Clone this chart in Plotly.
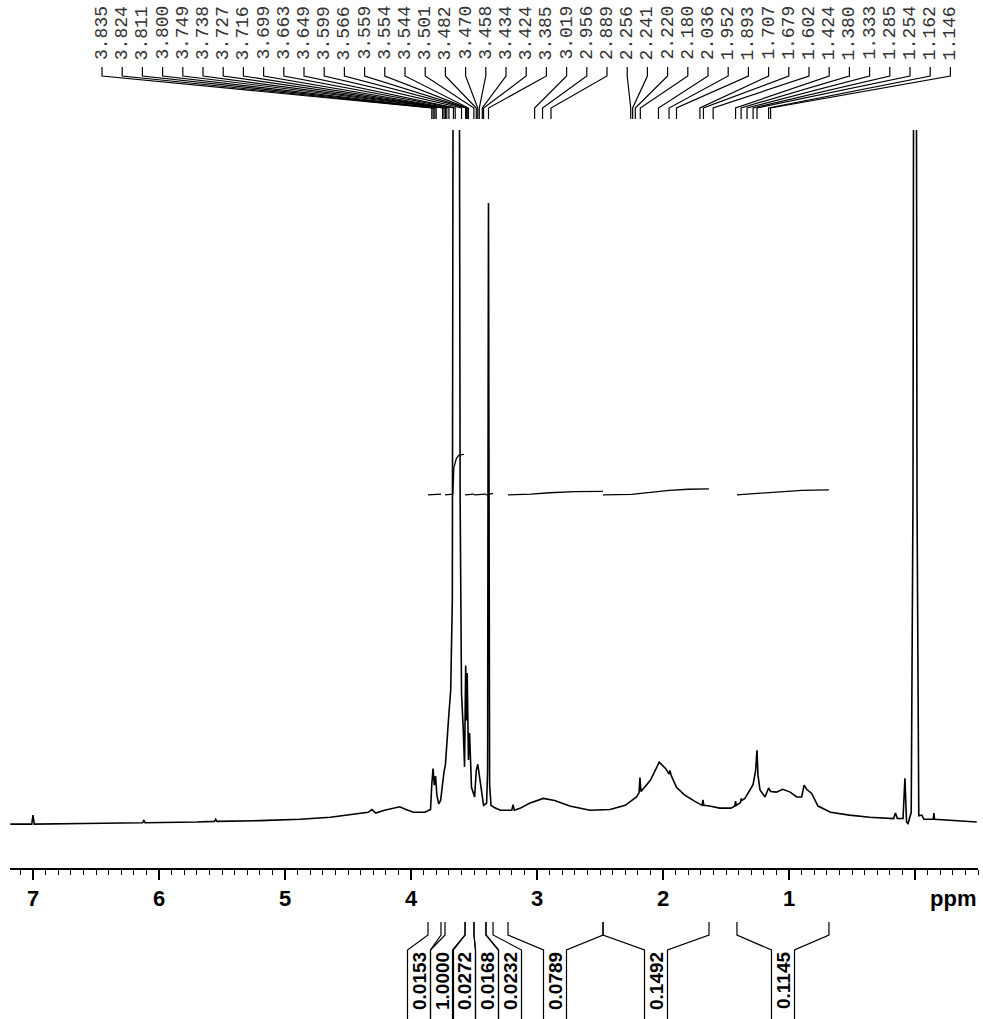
import plotly.graph_objects as go

# ---------------- data ----------------
spec_ppm = [7.18, 7.01, 7.00, 6.99, 6.60, 6.13, 6.12, 6.11, 5.70, 5.56, 5.55, 5.54, 5.20, 4.88,
            4.64, 4.44, 4.34, 4.31, 4.28, 4.21, 4.13, 4.09, 4.04, 3.98, 3.89, 3.845, 3.835, 3.825,
            3.815, 3.805, 3.795, 3.78, 3.765, 3.75, 3.738, 3.727, 3.716, 3.699, 3.685, 3.672,
            3.663, 3.620, 3.610, 3.599, 3.585, 3.575, 3.566, 3.559, 3.554, 3.544, 3.535, 3.52,
            3.495, 3.482, 3.470, 3.458, 3.450, 3.434, 3.424, 3.40, 3.392, 3.388, 3.385, 3.382,
            3.376, 3.365, 3.34, 3.29, 3.20, 3.19, 3.18, 3.13, 3.06, 2.95, 2.86, 2.74, 2.58, 2.42,
            2.30, 2.21, 2.19, 2.183, 2.175, 2.10, 2.03, 1.98, 1.952, 1.945, 1.935, 1.893, 1.83,
            1.75, 1.69, 1.683, 1.676, 1.63, 1.55, 1.46, 1.43, 1.424, 1.418, 1.385, 1.380, 1.375,
            1.35, 1.31, 1.285, 1.265, 1.254, 1.246, 1.23, 1.19, 1.162, 1.146, 1.10, 1.05, 0.99,
            0.94, 0.90, 0.88, 0.86, 0.82, 0.77, 0.67, 0.52, 0.36, 0.17, 0.155, 0.14, 0.095, 0.08,
            0.067, 0.055, 0.03, 0.016, 0.008, -0.008, -0.016, -0.03, -0.055, -0.07, -0.145,
            -0.15, -0.155, -0.30, -0.49]
spec_int = [0.3, 0.3, 1.6, 0.3, 0.4, 0.5, 0.8, 0.5, 0.6, 0.7, 1.0, 0.7, 0.8, 1.0,
            1.3, 1.7, 2.0, 2.4, 1.9, 2.3, 2.7, 2.8, 2.4, 2.0, 2.0, 2.4, 6.0, 8.3,
            5.9, 7.2, 4.5, 3.2, 3.7, 6.5, 7.8, 8.8, 11.2, 16.2, 19.5, 32.5,
            150, 150, 46.8, 19.1, 13.8, 8.5, 23.1, 15.2, 22.0, 9.5, 13.4, 5.6,
            4.2, 8.0, 8.9, 7.3, 6.6, 3.7, 3.0, 3.3, 8.0, 60, 89.5, 60,
            6.0, 3.0, 2.7, 2.3, 2.3, 3.1, 2.3, 2.6, 3.3, 4.0, 3.7, 2.9, 2.3, 2.4,
            3.0, 4.2, 4.8, 7.0, 5.0, 6.6, 9.2, 8.3, 7.5, 8.0, 7.3, 5.6, 4.5,
            3.6, 3.0, 3.8, 3.0, 2.9, 2.6, 2.6, 2.9, 3.6, 3.0, 3.4, 4.0, 3.7,
            4.0, 5.2, 6.0, 8.0, 10.9, 7.3, 5.2, 4.2, 5.5, 5.0, 4.9, 5.3, 4.9,
            4.2, 4.2, 5.9, 5.3, 4.7, 2.9, 2.0, 1.6, 1.3, 1.1, 1.9, 1.1, 1.1, 6.9,
            0.6, 0.4, 2.0, 47, 150, 150, 47, 1.5, 1.6, 1.0, 1.0,
            1.9, 1.0, 0.8, 0.6]

peak_labels = ["3.835", "3.824", "3.811", "3.800", "3.749", "3.738", "3.727", "3.716",
               "3.699", "3.663", "3.649", "3.599", "3.566", "3.559", "3.554", "3.544",
               "3.501", "3.482", "3.470", "3.458", "3.434", "3.424", "3.385", "3.019",
               "2.956", "2.889", "2.256", "2.241", "2.220", "2.180", "2.036", "1.952",
               "1.893", "1.707", "1.679", "1.602", "1.424", "1.380", "1.333", "1.285",
               "1.254", "1.162", "1.146"]

integ_labels = ["0.0153", "1.0000", "0.0272", "0.0168", "0.0232", "0.0789", "0.1492", "0.1145"]
integ_start = [3.865, 3.730, 3.571, 3.500, 3.405, 3.230, 2.476, 1.413]
integ_end = [3.762, 3.571, 3.500, 3.405, 3.349, 2.476, 1.635, 0.683]
integ_curve_ppm = [
    [3.865, 3.762],
    [3.730, 3.668, 3.660, 3.640, 3.620, 3.580],
    [3.571, 3.500],
    [3.500, 3.405],
    [3.405, 3.349],
    [3.230, 3.05, 2.90, 2.70, 2.476],
    [2.476, 2.25, 2.10, 1.95, 1.80, 1.635],
    [1.413, 1.30, 1.20, 1.05, 0.90, 0.683],
]
integ_curve_val = [
    [47.6, 47.7],
    [47.6, 47.7, 51.5, 52.8, 53.3, 53.4],
    [47.6, 47.7],
    [47.6, 47.7],
    [47.6, 47.8],
    [47.6, 47.7, 47.9, 48.05, 48.1],
    [47.6, 47.65, 47.95, 48.25, 48.4, 48.45],
    [47.6, 47.75, 47.9, 48.05, 48.25, 48.3],
]

tick_vals = [0, 1, 2, 3, 4, 5, 6, 7]
tick_text = ["", "1", "2", "3", "4", "5", "6", "7"]

# ---------------- layout geometry ----------------
W, H = 983, 1019
X0_PX, X1_PX = 10, 978
PPM_LEFT, PPM_RIGHT = 7.1825, -0.5
AXIS_Y_PX, TOP_Y_PX = 868, 130
INT_RANGE = [-6, 100]

LABEL_X0_PX, LABEL_DX_PX = 102, 20.2
LABEL_Y_PX = 33
CONN_Y = [67, 76, 108, 119]

BOX_CENTER_PX = [419, 442, 464, 487, 510, 555, 656, 783]
BOX_HALF_PX = 11.5
BR_Y = [922, 935, 950, 1019]
BOX_TEXT_Y_PX = 981


def px_x(p):
    return X0_PX + (PPM_LEFT - p) / (PPM_LEFT - PPM_RIGHT) * (X1_PX - X0_PX)


def fx(px):
    return px / W


def fy(py):
    return 1 - py / H


fig = go.Figure()
fig.add_trace(go.Scatter(x=spec_ppm, y=spec_int, mode="lines",
                         line=dict(color="black", width=1.6), hoverinfo="skip"))
for cp, cv in zip(integ_curve_ppm, integ_curve_val):
    fig.add_trace(go.Scatter(x=cp, y=cv, mode="lines",
                             line=dict(color="black", width=1.3), hoverinfo="skip"))

shapes = []
annotations = []

# peak labels + connectors
for i, lab in enumerate(peak_labels):
    lx = LABEL_X0_PX + LABEL_DX_PX * i
    pxp = px_x(float(lab))
    annotations.append(dict(text=lab, x=fx(lx), y=fy(LABEL_Y_PX), xref="paper", yref="paper",
                            textangle=-90, showarrow=False, xanchor="center", yanchor="middle",
                            font=dict(family="Liberation Mono", size=18, color="#333")))
    path = (f"M {fx(lx)},{fy(CONN_Y[0])} L {fx(lx)},{fy(CONN_Y[1])} "
            f"L {fx(pxp)},{fy(CONN_Y[2])} L {fx(pxp)},{fy(CONN_Y[3])}")
    shapes.append(dict(type="path", path=path, xref="paper", yref="paper",
                       line=dict(color="black", width=1.2)))

# integral brackets + boxed labels
for lab, s, e, c in zip(integ_labels, integ_start, integ_end, BOX_CENTER_PX):
    xs, xe = px_x(s), px_x(e)
    bl, br = c - BOX_HALF_PX, c + BOX_HALF_PX
    p1 = (f"M {fx(xs)},{fy(BR_Y[0])} L {fx(xs)},{fy(BR_Y[1])} "
          f"L {fx(bl)},{fy(BR_Y[2])} L {fx(bl)},{fy(BR_Y[3])}")
    p2 = (f"M {fx(xe)},{fy(BR_Y[0])} L {fx(xe)},{fy(BR_Y[1])} "
          f"L {fx(br)},{fy(BR_Y[2])} L {fx(br)},{fy(BR_Y[3])}")
    for p in (p1, p2):
        shapes.append(dict(type="path", path=p, xref="paper", yref="paper",
                           line=dict(color="black", width=1.2)))
    annotations.append(dict(text=f"<b>{lab}</b>", x=fx(c), y=fy(BOX_TEXT_Y_PX),
                            xref="paper", yref="paper", textangle=-90, showarrow=False,
                            xanchor="center", yanchor="middle",
                            font=dict(family="Liberation Sans", size=19, color="black")))

annotations.append(dict(text="<b>ppm</b>", x=fx(953), y=fy(898), xref="paper", yref="paper",
                        showarrow=False, xanchor="center", yanchor="middle",
                        font=dict(family="Liberation Sans", size=22, color="black")))

fig.update_layout(
    width=W, height=H, autosize=False,
    margin=dict(l=0, r=0, t=0, b=0),
    paper_bgcolor="white", plot_bgcolor="white",
    showlegend=False,
    shapes=shapes, annotations=annotations,
    xaxis=dict(domain=[fx(X0_PX), fx(X1_PX)], range=[PPM_LEFT, PPM_RIGHT],
               showgrid=False, zeroline=False, showline=True, linecolor="black", linewidth=1.5,
               ticks="outside", ticklen=10, tickwidth=1.5, tickcolor="black",
               tickmode="array", tickvals=tick_vals, ticktext=tick_text,
               tickfont=dict(family="Liberation Sans", size=22, color="black", weight="bold"),
               minor=dict(tickmode="linear", tick0=0, dtick=0.1, ticks="outside", ticklen=5,
                          tickwidth=1, tickcolor="black", showgrid=False),
               fixedrange=True),
    yaxis=dict(domain=[fy(AXIS_Y_PX), fy(TOP_Y_PX)], range=INT_RANGE, visible=False,
               fixedrange=True),
)

fig.write_html("out.html", config={"displayModeBar": False})
